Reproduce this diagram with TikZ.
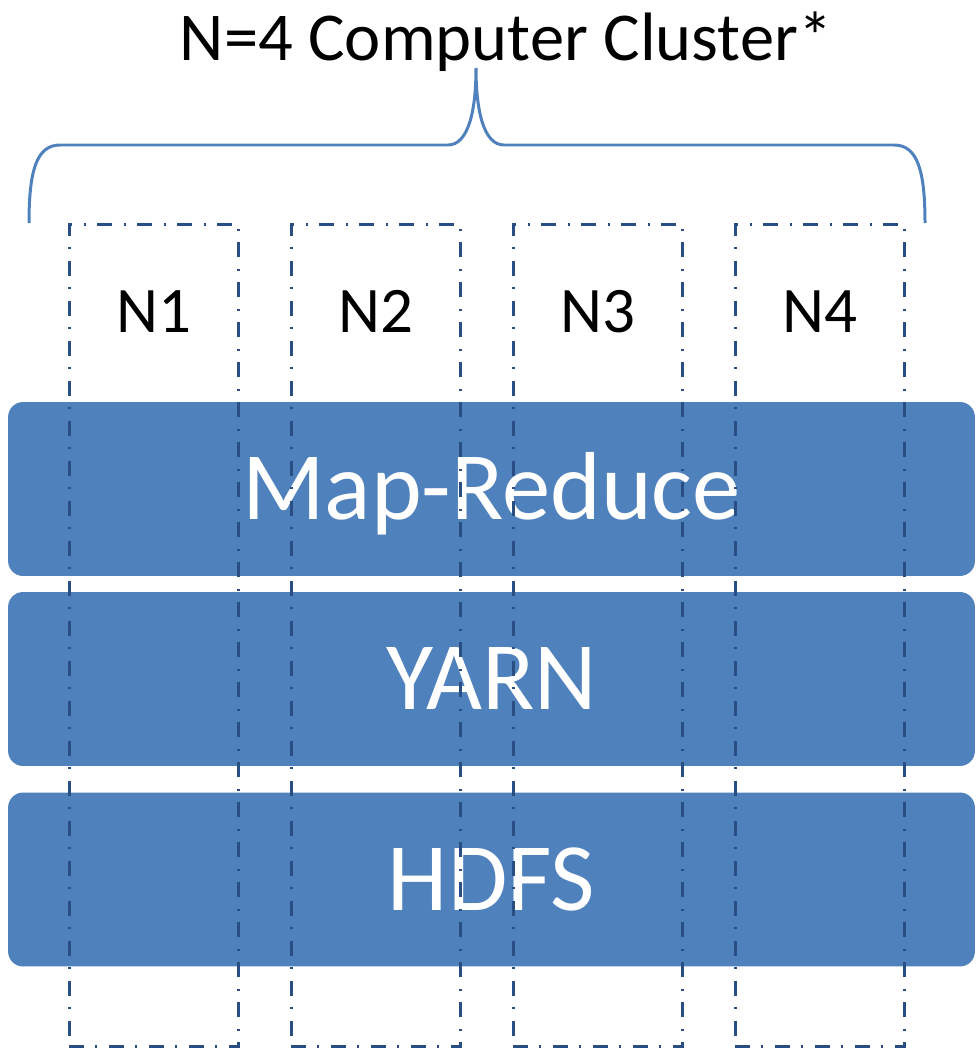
\documentclass[tikz,border=0pt]{standalone}
\usepackage{fontspec}
\setmainfont{Carlito}
\definecolor{bandblue}{RGB}{79,129,189}
\definecolor{dashblue}{RGB}{40,78,132}
\tikzset{
	nodebox/.style={draw=dashblue, line width=0.06cm, dash pattern=on 0.3cm off 0.22cm on 0.04cm off 0.24cm,
		minimum width=3.4cm, minimum height=16.46cm, inner sep=0pt},
	nodelabel/.style={anchor=base, font=\fontsize{37pt}{44pt}\selectfont},
	layer/.style={fill=bandblue, rounded corners=0.3cm, minimum width=19.34cm, minimum height=3.48cm,
		inner sep=0pt, text=white, text height=35pt, text depth=0pt, font=\fontsize{55pt}{64pt}\selectfont},
	brace/.style={draw=bandblue, line width=0.06cm}
}
\begin{document}
\begin{tikzpicture}[x=0.02cm, y=-0.02cm]
		\useasboundingbox (0,0) rectangle (976,1051);

		\node[font=\fontsize{39pt}{46pt}\selectfont, anchor=base] (title) at (506,61) {N=4 Computer Cluster*};

		\draw[brace] (29,223) .. controls (29,172) and (36,145) .. (60,145) -- (448,145)
			.. controls (468,145) and (476,112) .. (476,68)
			.. controls (476,112) and (484,145) .. (504,145) -- (894,145)
			.. controls (918,145) and (925,172) .. (925,223);

		\node[layer] (mapreduce) at (491.5,489) {Map-Reduce};
		\node[layer] (yarn) at (491.5,679) {YARN};
		\node[layer] (hdfs) at (491.5,879.5) {HDFS};

		\node[nodebox] (n1) at (154,635.5) {};
		\node[nodebox] (n2) at (376,635.5) {};
		\node[nodebox] (n3) at (598,635.5) {};
		\node[nodebox] (n4) at (820,635.5) {};

		\node[nodelabel] (l1) at (154,332) {N1};
		\node[nodelabel] (l2) at (376,332) {N2};
		\node[nodelabel] (l3) at (598,332) {N3};
		\node[nodelabel] (l4) at (820,332) {N4};

	\end{tikzpicture}
\end{document}
